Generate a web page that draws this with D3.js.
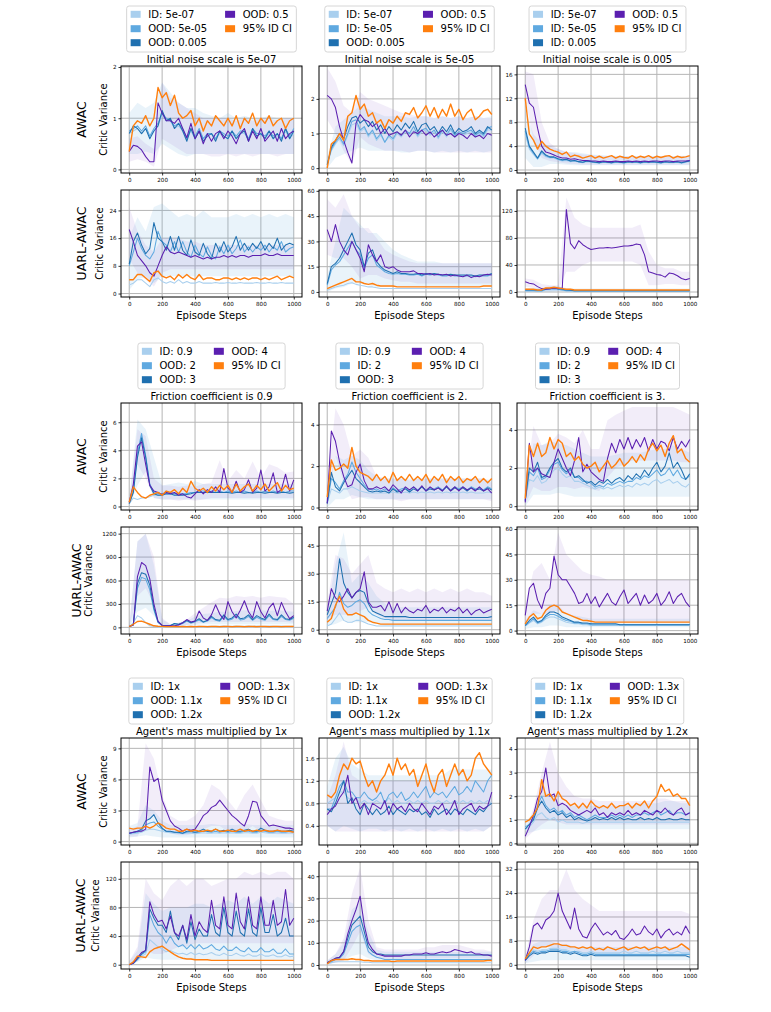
<!DOCTYPE html>
<html><head><meta charset="utf-8">
<script src="https://cdn.jsdelivr.net/npm/d3@7"></script>
<style>
body{margin:0;background:#fff}
svg{display:block}
text{font-family:"DejaVu Sans",sans-serif;fill:#000}
</style>
</head><body>
<svg id="chart" width="771" height="1012"></svg>
<script>
// ---------- categories / labels ----------
const steps = d3.range(0, 1001, 25);      // x positions of line samples
const bandSteps = d3.range(0, 1001, 50);  // x positions of band samples
const xTicks = [0, 200, 400, 600, 800, 1000];
const seriesColors = ["#a9cfee", "#5fa9e0", "#1f70b0", "#5b1fb0", "#ff7f0e"];
const rowNames = ["AWAC", "UARL-AWAC"];
const titles = [
  ["Initial noise scale is 5e-07", "Initial noise scale is 5e-05", "Initial noise scale is 0.005"],
  ["Friction coefficient is 0.9", "Friction coefficient is 2.", "Friction coefficient is 3."],
  ["Agent's mass multiplied by 1x", "Agent's mass multiplied by 1.1x", "Agent's mass multiplied by 1.2x"]
];
const legendNoise = [
  ["ID: 5e-07", "OOD: 5e-05", "OOD: 0.005", "OOD: 0.5", "95% ID CI"],
  ["ID: 5e-07", "ID: 5e-05", "OOD: 0.005", "OOD: 0.5", "95% ID CI"],
  ["ID: 5e-07", "ID: 5e-05", "ID: 0.005", "OOD: 0.5", "95% ID CI"]
];
const legendFriction = [
  ["ID: 0.9", "OOD: 2", "OOD: 3", "OOD: 4", "95% ID CI"],
  ["ID: 0.9", "ID: 2", "OOD: 3", "OOD: 4", "95% ID CI"],
  ["ID: 0.9", "ID: 2", "ID: 3", "OOD: 4", "95% ID CI"]
];
const legendMass = [
  ["ID: 1x", "OOD: 1.1x", "OOD: 1.2x", "OOD: 1.3x", "95% ID CI"],
  ["ID: 1x", "ID: 1.1x", "OOD: 1.2x", "OOD: 1.3x", "95% ID CI"],
  ["ID: 1x", "ID: 1.1x", "ID: 1.2x", "OOD: 1.3x", "95% ID CI"]
];
// y ticks per row (6 rows) per column
const yTicks = [
  [[0,1,2],[0,1,2],[0,4,8,12,16]],
  [[0,8,16,24],[0,15,30,45,60],[0,40,80,120]],
  [[0,2,4,6],[0,2,4],[0,2,4]],
  [[0,300,600,900,1200],[0,15,30,45],[0,15,30,45,60]],
  [[0,3,6,9],[0.4,0.8,1.2,1.6],[0,1,2,3,4]],
  [[0,40,80,120],[0,10,20,30,40],[0,8,16,24,32]]
];
const yDomains = [
  [[-0.07,2.02],[-0.14,2.95],[-0.5,17.4]],
  [[-1.0,29.9],[-3,60.5],[-7.4,151]],
  [[-0.25,7.37],[-0.12,5.05],[-0.2,5.41]],
  [[-85,1285],[-2.3,55],[-2,61.2]],
  [[-0.33,10.0],[0.06,1.96],[-0.07,4.47]],
  [[-6,143.5],[-1.8,46.4],[-1.4,34.4]]
];

// ---------- series values: [ID/OOD 1, 2, 3, OOD 4, 95% ID CI] ----------
// bands: [blue low, blue high, ood low, ood high]
const N1A = [
 [0.7,0.75,0.8,0.7,0.8,0.65,0.75,0.85,1.05,0.95,0.95,0.8,0.85,0.75,0.6,0.75,0.6,0.75,0.6,0.65,0.7,0.6,0.7,0.65,0.6,0.7,0.6,0.7,0.7,0.6,0.75,0.65,0.7,0.6,0.7,0.6,0.65,0.6,0.75,0.6,0.7],
 [0.75,0.8,0.85,0.75,0.85,0.65,0.8,0.9,1.1,1.0,0.95,0.85,0.9,0.8,0.6,0.8,0.65,0.8,0.6,0.7,0.7,0.6,0.75,0.7,0.65,0.75,0.65,0.75,0.75,0.6,0.8,0.7,0.7,0.65,0.75,0.65,0.7,0.6,0.8,0.65,0.8],
 [0.7,0.85,0.8,0.7,0.8,0.6,0.75,0.85,1.15,0.95,1.0,0.8,0.9,0.75,0.55,0.8,0.6,0.75,0.55,0.65,0.7,0.55,0.75,0.65,0.6,0.75,0.6,0.7,0.75,0.55,0.8,0.65,0.7,0.6,0.75,0.6,0.7,0.55,0.8,0.6,0.75],
 [0.35,0.47,0.45,0.38,0.25,0.15,0.15,1.3,1.1,0.95,0.95,0.9,1.0,0.8,0.62,0.9,0.6,0.75,0.5,0.7,0.55,0.7,0.75,0.6,0.75,0.65,0.5,0.7,0.8,0.55,0.75,0.6,0.8,0.55,0.65,0.75,0.55,0.8,0.6,0.7,0.75],
 [0.35,0.85,0.95,0.9,1.05,0.85,1.0,1.6,1.4,1.5,1.25,1.45,1.1,1.0,1.05,1.15,0.85,1.0,0.75,0.95,0.85,1.05,0.95,0.85,1.0,0.85,1.05,0.8,1.0,0.9,1.1,0.85,1.0,0.9,1.05,0.85,0.95,1.0,0.8,0.95,1.0]
];
const N1A_band = [
 [0.3,0.3,0.35,0.3,0.5,0.4,0.3,0.25,0.3,0.3,0.3,0.3,0.3,0.3,0.3,0.3,0.3,0.3,0.3,0.3,0.3],
 [1.1,1.3,1.2,1.3,1.7,1.5,1.3,1.2,1.2,1.1,1.05,1.0,1.1,1.0,1.05,1.0,1.0,1.05,1.0,1.0,1.0],
 [0.15,0.2,0.15,0.05,0.6,0.5,0.4,0.3,0.3,0.3,0.25,0.25,0.3,0.25,0.3,0.25,0.3,0.3,0.25,0.3,0.3],
 [0.6,0.65,0.5,0.4,1.7,1.4,1.3,1.2,1.1,1.0,1.0,1.0,1.0,0.95,1.0,0.95,1.0,1.0,0.95,1.0,1.0]
];
const N2A = [
 [0.1,0.5,0.7,0.85,0.65,0.95,1.25,1.3,1.05,1.15,0.9,1.05,0.8,0.95,0.75,0.9,0.8,1.0,0.9,1.05,0.95,1.1,0.9,1.05,1.1,0.95,1.05,0.85,1.05,0.9,1.1,0.9,1.0,0.95,1.0,1.05,0.9,1.0,0.9,1.1,1.1],
 [0.1,0.55,0.75,0.9,0.7,1.0,1.35,1.4,1.1,1.2,0.95,1.1,0.85,1.0,0.75,0.95,0.85,1.05,0.95,1.1,1.0,1.2,0.95,1.1,1.15,1.0,1.1,0.9,1.1,0.95,1.15,0.95,1.05,1.0,1.05,1.1,0.95,1.05,0.95,1.15,1.2],
 [0.1,0.6,0.8,1.0,0.85,1.2,1.45,1.5,1.3,1.4,1.2,1.35,1.1,1.25,1.0,1.2,1.05,1.25,1.1,1.3,1.15,1.35,1.05,1.25,1.3,1.1,1.2,1.0,1.2,1.05,1.25,1.0,1.15,1.05,1.1,1.2,1.0,1.1,1.0,1.2,1.1],
 [2.1,2.0,1.75,1.2,0.8,0.45,0.15,1.3,1.55,1.4,1.35,1.2,1.3,1.0,1.15,0.95,1.0,1.05,0.95,1.1,0.9,1.05,1.0,1.1,0.95,1.05,0.9,1.0,1.1,0.95,1.0,0.9,1.0,0.95,0.85,1.0,0.9,0.95,0.85,1.0,0.95],
 [0,0.7,0.8,1.0,0.8,1.5,1.6,2.1,1.7,1.85,1.5,1.6,1.3,1.4,1.15,1.4,1.3,1.5,1.35,1.6,1.55,1.75,1.45,1.6,1.8,1.5,1.75,1.45,1.7,1.5,1.85,1.5,1.7,1.4,1.6,1.7,1.4,1.5,1.65,1.7,1.55]
];
const N2A_band = [
 [0,0.3,0.4,0.5,0.6,0.5,0.5,0.5,0.5,0.45,0.45,0.5,0.5,0.45,0.5,0.45,0.5,0.45,0.5,0.45,0.5],
 [0.3,1.2,1.4,1.6,1.8,1.7,1.6,1.5,1.5,1.5,1.45,1.5,1.5,1.45,1.5,1.45,1.5,1.45,1.5,1.45,1.5],
 [1.4,1.0,0.5,0.1,0.9,0.7,0.6,0.5,0.5,0.5,0.45,0.5,0.5,0.45,0.45,0.45,0.45,0.45,0.45,0.45,0.45],
 [2.9,2.5,1.8,1.6,2.2,2.0,1.9,1.8,1.7,1.6,1.55,1.5,1.5,1.45,1.5,1.45,1.5,1.45,1.5,1.45,1.45]
];
const N3A = [
 [6,3.5,2.6,1.8,2.8,2.2,2.0,2.0,1.7,1.5,1.6,1.4,1.5,1.3,1.2,1.4,1.3,1.2,1.1,1.3,1.2,1.1,1.3,1.2,1.1,1.3,1.2,1.3,1.1,1.3,1.2,1.3,1.2,1.1,1.3,1.2,1.2,1.3,1.1,1.3,1.4],
 [6.5,3.8,2.8,1.9,3.0,2.4,2.1,2.1,1.8,1.6,1.7,1.5,1.6,1.4,1.3,1.5,1.4,1.3,1.2,1.4,1.3,1.2,1.4,1.3,1.2,1.4,1.3,1.4,1.2,1.4,1.3,1.4,1.3,1.2,1.4,1.3,1.3,1.4,1.2,1.4,1.5],
 [7,4,3,2,3.2,2.5,2.2,2.2,1.9,1.7,1.8,1.5,1.6,1.4,1.3,1.5,1.4,1.3,1.2,1.4,1.3,1.2,1.4,1.3,1.2,1.4,1.3,1.4,1.2,1.4,1.3,1.4,1.3,1.2,1.4,1.3,1.3,1.4,1.2,1.4,1.5],
 [14.3,11.2,10.5,7,4,3,2.8,2.5,2.2,2.0,2.0,1.8,1.9,1.7,1.6,1.6,1.5,1.5,1.4,1.5,1.4,1.4,1.5,1.4,1.4,1.5,1.4,1.5,1.4,1.5,1.4,1.5,1.5,1.4,1.5,1.5,1.4,1.5,1.5,1.5,1.6],
 [12,6,5,3.5,4.8,4,3.5,3.2,3,2.6,3,2.2,2.5,2.3,2,2.2,2.4,2,2.3,2,2.2,2.4,2,2.3,2.1,2,2.4,2,2.3,2.1,2.4,2,2.3,2.1,2.3,2.4,2,2.3,2.1,2.2,2.4]
];
const N3A_band = [
 [2,0.5,0.5,1,1,0.9,0.8,0.8,0.8,0.8,0.8,0.8,0.8,0.8,0.8,0.8,0.8,0.8,0.8,0.8,0.8],
 [10,6,4.5,4,3.5,3,3,2.8,2.6,2.5,2.4,2.4,2.3,2.4,2.3,2.4,2.3,2.4,2.3,2.4,2.4],
 [12,5,2,1.5,1.3,1.1,1.0,0.9,0.9,0.9,0.9,0.9,0.9,0.9,0.9,0.9,0.9,0.9,0.9,0.9,0.9],
 [16.5,16,8,4.5,3.5,3,2.8,2.6,2.5,2.4,2.4,2.3,2.3,2.3,2.3,2.3,2.3,2.3,2.3,2.3,2.3]
];
const N1U = [
 [2.5,3,4,4,3,2,4,4.5,3.5,3,3.5,3,4,3,3.5,3,3,3.5,3,3,3,3.2,3,3,3.2,3,3,3.2,3,3,3,3.2,3,3,3.2,3,3,3.2,3,3,3],
 [8,12,16,13,11,10,12,18,15,14,12,15,12,15,12,10.5,14,11.5,10.5,13.5,11,10,13.5,11.5,14,11.5,13,15.5,12,13.5,12,13.5,12.5,14,12,13.5,12.5,15,12,13,13.5],
 [8.5,15,17.5,14,11.5,13,20.5,16,15,12.5,16.5,12.5,16.5,12.5,11,15.5,12,11,14.5,11.5,10,14.5,12,15,12,13.5,16.5,12.5,14.5,12.5,14.5,13,15,12.5,14.5,13,16,12.5,14,14.5,14],
 [18.5,15,11,9.5,8,6,5,8,11,13.5,12,11.5,12,11.5,11,10.5,11,10.5,10,10.5,10,10.5,10.5,11,10.5,11,10.5,11,11,10.5,11,11,11,11.5,11,11,11.5,11,11,11,11],
 [4,4,5.5,5.5,4.5,3.5,6,6.5,5,4.5,5,4,5.5,4.5,5.5,4.5,4,5.5,4,4.5,4.5,4,4,4.5,4.5,4,4.5,4,4.5,4,4.5,4.5,4,4.5,4,4.5,5,4,4.5,5,4.5]
];
const N1U_band = [
 [1,4,5,3,5,5,5,5,5,5,5,5,5,5,5,5,5,5,5,5,5],
 [16,22,18,25,26,24,22,23,22,24,22,22,22,23,22,23,22,23,22,23,22],
 [10,6,4,2,6,7,7,7,7,7,7,7,7,7,7,7,7,7,7,7,7],
 [25,18,14,12,16,16,16,15,15,14,14,14,14,14,14,14,14,14,14,14,14]
];
const N2U = [
 [1,2,3,3.5,4,5,5.5,4.5,4,3.5,3,3,2.5,2,2,2,2,2,2,2,2,2,2,2,2,2,2,2,2,2,2,2,2,2,2,2,2,2,2,2,2],
 [4,13,16,18,22,26,30,25,22,14,20,22,16,14,12,11,10.5,11,10.5,10.5,10,10,10.5,9.5,10.5,10,10.5,10,9.5,9.5,10,9.5,9.5,9.5,9.5,9.5,9,9.5,9.5,9.5,10.5],
 [5,15,17,20,25,30,35,28,25,15,23,25,18,15,13,12,11,12,11,11,10.5,10.5,11,10,11,10.5,11,10.5,10,10,10.5,10,10,10,10,10,9.5,10,10,10,11],
 [37,30,40,30,25,22,30,25,20,12,28,22,18,22,15,14,15,13,12,12,12,12.5,11,11,10.5,11,10,10.5,10,10.5,9.5,10,9.5,9,10,8.5,9.5,9,10,10.5,10],
 [2,3,4,5,6,7,8,6,6,5,4.5,5,4,3.5,3.5,3.5,3.5,3,3,3,3,3,3,3,3,3,3,3,3,3,3,3,3,3,3,3,3,3,3.5,3.5,3.5]
];
const N2U_band = [
 [0,2,3,5,5,4,3,3,3,3,3,3,3,3,3,3,3,3,3,3,3],
 [10,30,50,45,40,35,35,30,25,22,20,18,18,18,17,17,17,17,17,17,17],
 [22,20,20,15,8,10,10,8,7,6,6,5,5,5,5,5,5,5,5,5,5],
 [55,50,58,45,38,38,32,25,22,20,18,17,17,17,17,17,17,17,17,17,17]
];
const N3U = [
 [1.5,1.5,1.5,1,1,3,3,3.5,3,2.5,1.5,1.5,1,1,1,1,1,1,1,1,1,1,1,1,1,1,1,1,1,1,1,1,1,1,1,1,1,1,1,1,1],
 [2,2,2,1.5,1.5,4,4,5,4,3,2,2,1.5,1.5,1.5,1.5,1.5,1.5,1.5,1.5,1.5,1.5,1.5,1.5,1.5,1.5,1.5,1.5,1.5,1.5,1.5,1.5,1.5,1.5,1.5,1.5,1.5,1.5,1.5,1.5,1.5],
 [3,3,3,2.5,2.5,5,5,6,5,4,3,2.5,2,2,2,2,2,2,2,2,2,2,2,2,2,2,2,2,2,2,2,2,2,2,2,2,2,2,2,2,2],
 [15,13,12,8,5,4,5,6,5,6,122,72,64,76,70,66,63,64,65,65,66,65,66,67,68,68,69,71,70,55,30,28,26,25,22,28,27,24,20,18,20],
 [4,4,4,3,3,6,6,7,6,5,4,4,3,3,3,3,3,3,3,3,3,3,3,3,3,3,3,3,3,3,3,3,3,3,3,3,3,3,3,3,3]
];
const N3U_band = [
 [0,0,0,0,1,0.5,0.5,0.5,0.5,0.5,0.5,0.5,0.5,0.5,0.5,0.5,0.5,0.5,0.5,0.5,0.5],
 [6,6,6,9,9,6,5,5,5,5,5,5,5,5,5,5,5,5,5,5,5],
 [8,6,2,2,2,30,30,40,45,45,45,45,45,45,40,10,10,12,12,10,10],
 [20,18,12,10,10,140,110,100,95,95,95,95,95,95,100,60,40,35,35,30,30]
];
const F1A = [
 [0.2,0.6,0.5,0.6,0.6,0.7,0.8,0.8,0.8,0.9,0.9,0.9,0.9,0.9,0.9,1.0,1.0,1.0,1.0,1.0,1.0,1.0,1.0,1.0,1.0,1.0,1.0,1.0,1.0,1.0,1.0,1.0,1.0,1.0,1.0,1.0,1.0,1.0,1.0,1.0,1.0],
 [0.2,1.1,3.8,5.2,3.6,1.6,1.0,0.9,0.9,1.0,1.0,0.9,0.9,0.9,0.9,1.0,1.0,1.1,1.1,1.0,1.1,1.0,1.1,1.0,1.1,1.0,1.1,1.0,1.1,1.0,1.0,1.1,1.0,1.1,1.0,1.1,1.0,1.1,1.0,1.1,1.1],
 [0.2,1.0,3.5,4.9,3.5,1.5,0.9,0.8,0.8,0.9,0.9,0.8,0.8,0.8,0.85,0.9,1.0,1.0,1.0,1.0,1.0,1.0,1.0,1.0,1.0,0.95,1.0,1.0,0.95,1.0,0.95,1.0,1.0,0.95,1.0,1.0,0.95,1.0,1.0,0.95,1.0],
 [0.3,1.6,4.3,4.6,3.0,1.5,1.1,1.0,0.85,1.0,0.9,1.0,0.8,0.9,0.7,0.6,0.9,1.2,0.9,1.2,1.0,1.4,1.0,2.7,1.3,1.0,1.8,1.0,1.2,1.9,1.0,1.3,2.6,1.1,1.4,2.4,1.0,1.2,2.3,1.1,1.9],
 [0.3,1.4,1.0,0.7,0.6,0.8,0.9,1.0,0.8,1.1,1.0,1.2,0.9,1.3,1.0,1.8,1.3,1.1,1.3,1.0,1.4,1.1,1.5,1.2,1.5,1.0,1.6,1.1,1.4,1.6,1.1,1.5,1.2,1.6,1.1,1.4,1.7,1.1,1.5,1.2,1.3]
];
const F1A_band = [
 [0,1.5,2.5,0.6,0.5,0.5,0.5,0.5,0.5,0.5,0.5,0.5,0.5,0.5,0.5,0.5,0.5,0.5,0.5,0.5,0.5],
 [0.5,6.2,5.5,3.5,1.5,1.6,1.7,1.6,1.8,1.6,1.6,1.6,1.6,1.6,1.6,1.6,1.6,1.6,1.6,1.6,1.6],
 [0.1,3.0,2.0,0.6,0.5,0.5,0.4,0.5,0.4,0.5,0.6,0.6,0.6,0.6,0.6,0.6,0.6,0.6,0.6,0.6,0.6],
 [0.5,5.5,5.0,2.0,1.5,1.5,1.4,1.5,1.4,1.6,1.7,3.3,1.8,2.6,2.0,3.2,2.0,3.0,2.8,2.4,2.5]
];
const F2A = [
 [0.2,0.9,0.8,0.7,0.9,0.9,1.0,0.9,0.8,0.75,0.7,0.7,0.7,0.7,0.7,0.7,0.75,0.7,0.7,0.75,0.7,0.75,0.7,0.75,0.7,0.75,0.7,0.75,0.7,0.75,0.7,0.75,0.7,0.75,0.7,0.75,0.7,0.7,0.7,0.75,0.7],
 [0.2,1.4,1.2,0.9,1.3,1.6,2.2,1.7,1.4,1.1,0.9,0.85,0.9,0.8,0.9,0.8,0.95,0.8,0.9,0.95,0.8,1.0,0.85,1.0,0.85,0.95,0.9,1.0,0.85,1.0,0.85,1.0,0.9,1.0,0.85,1.0,0.9,0.95,0.85,1.0,0.9],
 [0.2,1.7,1.0,0.8,1.2,1.5,1.8,1.4,1.2,1.0,0.8,0.75,0.8,0.75,0.8,0.7,0.9,0.75,0.8,0.9,0.75,0.9,0.8,1.0,0.8,0.9,0.85,0.95,0.8,1.0,0.8,0.95,0.85,0.95,0.8,0.95,0.85,0.9,0.8,0.95,0.85],
 [0.2,3.7,3.2,2.2,1.5,1.0,1.1,1.7,2.1,1.3,0.9,0.9,1.0,0.9,1.0,0.8,1.1,0.9,0.7,1.0,0.85,1.0,0.8,1.05,0.8,1.0,0.85,0.95,0.8,1.05,0.8,1.0,0.8,1.0,0.85,0.95,0.8,1.0,0.8,0.9,0.7],
 [0.5,2.3,1.8,1.9,2.1,1.9,2.9,2.0,1.7,1.6,1.5,1.3,1.6,1.3,1.5,1.2,1.7,1.3,1.5,1.3,1.6,1.3,1.5,1.3,1.6,1.2,1.5,1.3,1.6,1.2,1.5,1.3,1.5,1.2,1.4,1.3,1.5,1.2,1.4,1.2,1.4]
];
const F2A_band = [
 [0,0.4,0.4,0.6,0.5,0.4,0.4,0.4,0.4,0.4,0.4,0.4,0.4,0.4,0.4,0.4,0.4,0.4,0.4,0.4,0.4],
 [0.8,2.5,2.3,2.5,2.3,1.8,1.5,1.4,1.4,1.4,1.4,1.4,1.4,1.4,1.4,1.4,1.4,1.4,1.4,1.4,1.3],
 [0.1,2.5,1.2,0.4,0.5,0.5,0.4,0.4,0.4,0.3,0.4,0.4,0.4,0.4,0.4,0.4,0.4,0.4,0.4,0.4,0.3],
 [1,4.8,4.0,2.5,2.8,2.4,1.5,1.4,1.4,1.4,1.3,1.4,1.4,1.4,1.4,1.4,1.4,1.4,1.4,1.4,1.2]
];
const F3A = [
 [0.3,1.4,1.3,1.6,1.2,1.3,1.6,1.9,2.0,1.7,1.5,1.6,1.3,1.3,1.2,1.1,1.0,0.9,1.0,0.9,1.0,0.9,1.0,1.1,1.0,1.1,1.0,1.2,1.1,1.2,1.1,1.3,1.4,1.2,1.3,1.4,1.2,1.3,1.1,1.0,1.2],
 [0.3,1.8,1.6,2.0,1.4,1.5,1.9,2.2,2.3,1.9,1.7,1.9,1.5,1.5,1.3,1.3,1.2,1.0,1.1,1.0,1.2,1.1,1.2,1.3,1.2,1.3,1.3,1.5,1.4,1.6,1.5,1.7,1.9,1.6,1.7,2.0,1.6,1.9,1.5,1.4,1.6],
 [0.3,2.0,1.8,2.3,1.5,1.6,2.0,2.3,2.5,2.0,1.8,2.0,1.5,1.6,1.4,1.2,1.3,1.1,1.3,1.2,1.4,1.2,1.4,1.5,1.3,1.6,1.4,1.7,1.5,1.9,1.6,2.0,2.3,1.8,2.1,2.8,2.0,2.3,1.9,1.4,1.7],
 [0.2,3.3,1.8,2.0,1.7,1.6,1.5,2.3,3.0,2.5,2.0,1.6,2.4,3.6,1.8,2.2,1.8,1.6,1.4,1.3,2.5,3.3,2.8,3.5,3.0,3.6,3.0,3.5,3.1,3.6,2.9,3.5,3.0,3.4,3.3,2.9,3.6,3.0,3.4,3.1,3.5],
 [0.4,3.2,2.6,3.3,2.6,2.8,3.6,3.0,3.5,3.3,2.6,2.8,2.4,2.6,2.2,2.0,2.1,2.3,1.8,2.1,2.4,2.0,2.2,2.5,2.1,2.3,2.6,2.3,2.7,2.4,3.0,3.3,2.9,3.2,2.6,3.3,3.7,2.8,3.0,2.5,2.3]
];
const F3A_band = [
 [0,0.6,0.6,0.6,0.7,0.6,0.5,0.5,0.5,0.5,0.5,0.5,0.5,0.5,0.5,0.5,0.5,0.5,0.5,0.5,0.5],
 [1,3.3,3.2,3.4,3.3,3.2,3.0,2.8,2.6,2.6,2.6,2.7,2.8,2.8,2.8,2.9,3.0,3.0,3.2,3.0,2.8],
 [0.1,1.0,0.8,0.8,1.0,1.0,0.9,1.0,0.9,0.8,1.5,2.0,2.2,2.4,2.4,2.4,2.4,2.4,2.4,2.3,2.3],
 [1,4.2,3.2,3.3,3.8,3.6,3.3,4.0,3.0,3.0,4.5,4.8,5.0,5.2,5.2,5.2,5.2,5.2,5.2,5.0,4.8]
];
const F1U = [
 [5,60,150,120,60,20,10,5,5,5,5,8,10,8,10,15,12,14,12,14,15,14,15,16,14,15,17,14,15,16,14,16,15,14,16,15,14,16,15,14,15],
 [8,40,500,640,620,480,220,60,22,18,22,45,35,50,80,55,70,95,65,80,125,90,80,140,90,105,150,95,105,140,90,130,105,90,150,100,90,140,100,90,115],
 [10,30,560,700,680,540,250,70,25,20,25,50,40,60,90,60,80,110,70,90,140,100,90,160,100,120,170,110,120,160,100,150,120,100,170,110,100,160,110,100,130],
 [10,30,650,830,790,620,300,80,25,20,20,20,30,60,100,70,80,210,120,90,160,290,170,100,330,200,120,220,340,200,120,330,200,120,250,310,150,320,200,110,150],
 [10,40,75,80,60,40,20,15,12,10,10,12,10,12,10,12,10,12,12,10,12,12,10,12,12,10,12,12,10,12,12,10,12,12,10,12,12,10,12,12,12]
];
const F1U_band = [
 [0,200,250,150,10,5,10,20,30,40,40,40,40,40,40,40,40,40,40,40,40],
 [20,1100,1200,800,100,40,60,80,140,170,180,200,200,210,220,210,220,210,220,210,200],
 [0,400,500,300,10,5,10,30,50,60,70,70,70,70,70,70,70,70,70,70,60],
 [20,1100,1200,900,120,40,60,100,180,250,320,380,370,400,390,400,380,400,390,380,300]
];
const F2U = [
 [2,3,6,9,5,4,4,5,5,4,3,2.5,2,2,2,2,2,2,2,2,2,2,2,2,2,2,2,2,2,2,2,2,2,2,2,2,2,2,2,2,2],
 [6,9,12,20,14,12,13,15,16,14,10,8,7,6,5.5,5.5,5,5,5,5,5,5,5,5,5,5,5,5,5,5,5,5,5,5,5,5,5,5,5,5,5],
 [8,14,20,38,25,20,17,20,21,20,14,10,9,8,7,7,7,7,7,7,6.5,6.5,6.5,6.5,6.5,6.5,6.5,6.5,6.5,6.5,6.5,6.5,6.5,6.5,6.5,6.5,6.5,6.5,6.5,6.5,7],
 [10,22,17,15,18,22,17,20,22,31,15,12,12,13,10,15,9,14,9,12,10,9,11,10,13,9,11,10,12,9,11,10,12,9,11,8,10,11,9,10,11],
 [4,6,13,18,11,8,8,9,8,7,5,4,3.5,3,3,3,3,3,3,3,3,3,3,3,3,3,3,3,3,3,3,3,3,3,3,3,3,3,3,3,3]
];
const F2U_band = [
 [2,3,5,4,4,4,3,2,2,2,2,2,2,2,2,2,2,2,2,2,2],
 [10,35,52,25,30,25,18,14,12,12,12,12,12,12,12,12,12,12,12,12,12],
 [5,8,8,8,10,12,8,6,5,5,5,5,5,5,5,5,5,5,5,5,5],
 [15,40,38,30,35,40,25,22,20,22,20,22,20,22,20,22,20,22,20,20,18]
];
const F3U = [
 [2.5,4.5,6,4,5,7,8,8,7,6,5,4.5,4,4,3.5,3.5,3,3,3,3,3,3,3,3,3,3,3,3,3,3,3,3,3,3,3,3,3,3,3,3,3],
 [3,5,7,4.5,5.5,8,9.5,9.5,8.5,7,6,5.5,4.5,4.5,4,4,3.5,3.5,3.5,3.5,3.5,3.5,3.5,3.5,3.5,3.5,3.5,3.5,3.5,3.5,3.5,3.5,3.5,3.5,3.5,3.5,3.5,3.5,3.5,3.5,3.5],
 [3,6,8,5,6,9,11,11,10,8,7,6,5,5,4.5,4.5,4,4,4,4,4,4,4,3.5,3.5,3.5,3.5,3.5,3.5,3.5,3.5,3.5,3.5,3.5,3.5,3.5,3.5,3.5,3.5,3.5,3.5],
 [9,25,28,18,13,22,25,44,33,30,30,26,22,16,17,22,16,20,14,18,22,17,15,20,24,16,19,22,15,21,16,18,22,15,18,23,16,20,22,17,14],
 [4,8,10,7,8,12,14,15,14,11,10,9,8,7,6,6,5.5,5,5,5,5,5,5,5,5,5,5,5,5,5,5,5,5,5,5,5,5,5,5,5,5]
];
const F3U_band = [
 [1,2,2,3,3,2,2,2,2,2,2,2,2,2,2,2,2,2,2,2,2],
 [6,12,10,15,15,10,9,8,7,7,7,7,7,7,7,7,7,7,7,7,7],
 [5,10,10,10,12,10,8,6,5,5,5,5,5,5,5,5,5,5,5,5,5],
 [15,35,40,30,58,45,40,35,33,32,30,30,30,30,30,30,30,30,30,30,30]
];
const M1A = [
 [0.7,0.75,0.8,0.9,1.1,1.2,1.2,1.1,1.0,0.9,0.85,0.8,0.8,0.75,0.8,0.8,0.75,0.8,0.85,0.8,0.8,0.85,0.8,0.85,0.8,0.85,0.8,0.8,0.85,0.85,0.8,0.8,0.9,0.85,0.8,0.8,0.85,0.8,0.8,0.85,0.8],
 [0.8,0.85,0.9,1.1,1.6,1.8,1.9,1.5,1.2,1.0,0.95,0.9,0.85,0.8,0.9,0.95,0.85,0.9,1.0,0.95,0.9,1.0,0.9,1.0,0.9,1.0,0.9,0.9,1.0,1.0,0.9,0.9,1.1,1.0,0.9,0.9,1.0,0.9,0.9,1.0,0.9],
 [0.8,0.9,1.0,1.2,2.0,2.2,2.6,1.8,1.3,1.0,1.0,0.9,0.9,0.8,1.0,1.0,0.9,1.0,1.2,1.0,1.0,1.2,1.0,1.1,1.0,1.2,1.0,1.0,1.1,1.2,1.0,1.0,1.3,1.1,1.0,1.0,1.1,1.0,1.0,1.1,1.0],
 [0.8,0.9,1.0,1.0,1.2,7.2,5.8,6.1,4.0,3.0,2.0,1.5,1.3,1.0,1.2,1.1,1.2,1.8,2.5,2.8,3.3,3.5,4.0,3.5,3.0,2.5,2.2,1.8,1.5,2.5,3.9,3.8,2.5,2.0,1.5,1.6,1.5,1.4,1.3,1.3,1.2],
 [1.3,1.2,1.3,1.3,1.5,1.3,1.5,1.8,1.6,1.3,1.2,1.2,1.0,1.0,1.2,1.0,1.1,1.0,1.0,1.1,1.0,1.2,1.0,1.0,1.1,1.0,1.0,1.2,1.0,1.1,1.0,1.1,1.0,1.1,1.0,1.0,1.1,1.0,1.0,1.0,0.9]
];
const M1A_band = [
 [0.4,0.5,0.6,0.5,0.4,0.4,0.4,0.4,0.4,0.4,0.4,0.4,0.4,0.4,0.4,0.4,0.4,0.4,0.4,0.4,0.4],
 [1.5,1.8,3.5,3.0,2.0,1.6,1.6,1.6,1.6,1.6,1.7,1.6,1.6,1.6,1.7,1.6,1.6,1.6,1.6,1.6,1.6],
 [0.5,0.5,2.0,2.5,1.5,0.8,0.6,0.6,0.8,1.2,1.5,1.5,1.0,0.8,1.0,1.5,1.0,0.8,0.7,0.7,0.7],
 [1.2,1.5,9.5,8.0,4.5,2.5,2.0,2.0,2.5,3.5,5.5,5.0,4.0,3.0,4.5,5.5,4.0,2.5,2.2,2.0,2.0]
];
const M2A = [
 [0.8,0.85,0.9,1.0,1.0,0.9,0.85,0.9,0.8,0.85,0.8,0.8,0.85,0.8,0.8,0.9,0.8,0.85,0.8,0.8,0.85,0.8,0.85,0.8,0.85,0.8,0.8,0.85,0.8,0.85,0.8,0.85,0.8,0.85,0.8,0.85,0.8,0.85,0.8,0.85,0.8],
 [0.7,0.7,0.9,1.1,1.2,1.0,1.0,0.9,0.9,1.0,0.9,0.85,0.9,1.0,0.8,0.95,1.0,0.9,1.0,0.85,0.9,1.0,0.9,1.0,1.1,0.9,1.0,0.95,1.0,0.9,1.0,1.1,0.95,1.0,1.1,1.0,1.2,1.1,1.0,1.2,1.3],
 [0.7,0.65,0.8,1.0,1.2,0.8,0.9,0.7,0.6,0.8,0.7,0.6,0.7,0.6,0.65,0.75,0.6,0.7,0.65,0.6,0.7,0.65,0.7,0.6,0.65,0.55,0.7,0.6,0.65,0.7,0.6,0.7,0.65,0.6,0.7,0.65,0.6,0.7,0.65,0.75,0.8],
 [0.6,0.7,0.75,0.9,1.0,1.3,0.8,0.9,0.7,0.8,0.6,0.8,0.75,0.7,0.85,0.6,0.8,0.7,0.75,0.65,0.8,0.7,0.65,0.8,0.7,0.6,0.75,0.7,0.8,0.6,0.7,0.85,0.6,0.7,0.75,0.8,0.65,0.75,0.7,0.75,1.0],
 [0.95,0.9,1.0,1.3,1.5,1.4,1.6,1.5,1.55,1.3,1.1,1.2,1.0,1.2,1.3,1.5,1.3,1.6,1.4,1.5,1.3,1.4,1.1,1.3,1.5,1.2,1.0,1.3,1.4,1.1,1.3,1.5,1.3,1.4,1.2,1.3,1.6,1.7,1.5,1.4,1.3]
];
const M2A_band = [
 [0.4,0.3,0.4,0.35,0.3,0.35,0.35,0.3,0.35,0.3,0.35,0.3,0.35,0.3,0.35,0.3,0.35,0.3,0.35,0.3,0.4],
 [1.1,1.6,1.8,1.5,1.4,1.3,1.3,1.3,1.3,1.3,1.3,1.3,1.3,1.3,1.3,1.4,1.4,1.4,1.4,1.4,1.4],
 [0.4,0.3,0.3,0.3,0.3,0.3,0.3,0.3,0.3,0.3,0.3,0.3,0.3,0.3,0.3,0.3,0.3,0.3,0.3,0.3,0.4],
 [0.9,1.3,1.9,1.3,1.2,1.2,1.2,1.2,1.2,1.2,1.2,1.2,1.2,1.2,1.2,1.2,1.2,1.2,1.2,1.2,1.2]
];
const M3A = [
 [0.6,0.7,0.9,1.2,1.3,1.1,1.0,1.1,0.9,1.0,0.9,0.9,0.9,0.9,0.85,0.9,0.9,0.9,0.9,0.9,0.9,0.9,0.9,0.9,0.9,0.9,0.9,0.9,0.9,0.9,0.9,0.9,0.9,0.9,0.9,0.9,0.9,0.9,0.9,0.9,0.9],
 [0.7,0.8,1.1,1.6,2.0,1.6,1.4,1.5,1.3,1.4,1.2,1.3,1.1,1.2,1.1,1.0,1.1,1.2,1.1,1.1,1.1,1.2,1.1,1.2,1.1,1.2,1.1,1.2,1.2,1.3,1.2,1.3,1.4,1.2,1.3,1.4,1.2,1.3,1.3,1.2,1.3],
 [0.6,0.8,1.0,1.5,1.8,1.5,1.3,1.4,1.2,1.3,1.1,1.2,1.0,1.1,1.0,0.95,1.0,1.1,1.0,1.05,1.0,1.1,1.0,1.1,1.0,1.05,1.0,1.0,1.1,1.0,1.05,1.0,1.1,1.0,1.0,1.05,1.0,1.0,1.05,1.0,1.0],
 [0.3,0.7,1.2,1.9,2.2,3.2,2.0,2.1,1.6,1.7,1.6,1.4,1.3,1.2,1.3,1.4,1.3,1.5,1.2,1.3,1.1,1.3,1.2,1.3,1.2,1.4,1.2,1.3,1.2,1.4,1.3,1.2,1.4,1.3,1.5,1.3,1.2,1.4,1.5,1.2,1.3],
 [0.9,1.0,1.2,1.5,2.7,2.0,2.1,1.8,2.2,1.9,1.8,1.6,1.7,1.5,1.7,1.5,1.8,1.6,1.5,1.6,1.5,1.7,1.5,1.6,1.6,1.7,1.5,1.7,1.6,1.8,1.5,1.8,2.0,2.5,2.2,2.3,2.0,2.1,1.9,1.9,1.6]
];
const M3A_band = [
 [0.4,0.5,0.6,0.6,0.6,0.6,0.6,0.6,0.6,0.6,0.6,0.6,0.6,0.6,0.6,0.6,0.6,0.6,0.6,0.6,0.6],
 [0.9,1.3,2.2,2.1,1.8,1.6,1.6,1.6,1.6,1.6,1.6,1.6,1.6,1.6,1.7,1.7,1.7,1.8,1.8,1.7,1.7],
 [0.2,0.5,0.8,1.0,0.9,0.8,0.8,0.8,0.8,0.8,0.8,0.8,0.8,0.8,0.8,0.8,0.8,0.8,0.8,0.8,0.8],
 [0.5,1.5,3.0,4.3,3.0,2.4,2.0,1.9,1.9,1.8,1.8,1.8,1.8,1.8,1.8,1.8,1.9,1.9,1.8,1.8,1.8]
];
const M1U = [
 [0,2,6,12,15,35,30,25,22,18,20,17,15,16,14,17,14,16,14,15,17,14,13,16,13,13,16,13,12,15,12,12,15,12,12,14,11,11,14,11,12],
 [0,2,8,14,18,70,55,45,40,30,40,30,25,28,22,28,22,28,22,24,28,22,20,26,20,20,25,20,18,24,18,18,24,18,18,22,16,16,22,15,15],
 [0,2,8,15,20,78,65,55,55,45,75,45,35,55,30,60,35,50,40,40,70,45,40,80,45,40,75,45,40,78,45,40,80,45,45,70,40,45,65,40,40],
 [0,2,10,17,20,88,70,60,62,50,68,45,40,55,35,70,40,60,50,45,90,55,50,95,55,50,100,60,50,95,55,50,95,55,55,90,55,60,105,55,65],
 [0,4,12,11,10,18,22,24,26,22,18,14,11,9,8,8,7,7,7,7,6,6,6,6,6,6,6,6,6,6,6,6,6,6,6,6,6,6,6,6,6]
];
const M1U_band = [
 [0,4,10,8,7,7,7,7,7,7,7,7,7,7,7,7,7,7,7,7,7],
 [5,20,100,85,75,80,80,80,85,85,80,85,90,85,95,85,95,85,95,90,85],
 [0,5,20,15,15,20,25,25,30,30,30,30,30,30,30,30,30,30,30,30,30],
 [5,25,120,100,90,110,120,110,120,120,110,115,120,120,130,125,130,125,130,130,120]
];
const M2U = [
 [0.5,1,1.5,1.5,1.5,1.5,1.5,1.5,1.5,1.2,1.2,1,1,1,1,1,1,1,1,1,1,1,1,1,1,1,1,1,1,1,1,1,1,1,1,1,1,1,1,1,1],
 [1,1.5,2.5,3,5,10,15,17,18,12,6,4.5,3.5,3,2.5,2.5,2.5,2.5,2.5,2.5,2.5,2.5,2.5,2.5,2.5,2.5,2.5,2.5,2.5,2.5,2.5,2.5,2.5,2.5,2.5,2.5,2.5,2.5,2.5,2.5,2.5],
 [1,2,3,3.5,6,12,18,20,22,15,8,6,5,5,4.5,4.5,4.5,4.5,4.5,4.5,4.5,4.5,4.5,4.5,4.5,4.5,4.5,4.5,4.5,4.5,4.5,4.5,4.5,4.5,4.5,4.5,4.5,4.5,4.5,4.5,4.5],
 [1,2,3,3.5,6,14,20,25,31,18,10,7,5,4.5,4,4,4,4,4,4.5,4.5,5,5,5,5.5,5,5,5.5,6,5.5,6,7,6.5,6,5.5,6,5,5,4.5,4.5,4],
 [0.5,2,2.5,2.5,2.5,2.5,2.8,2.5,2.5,2,2,1.8,1.8,1.8,1.8,1.8,1.5,1.8,1.8,1.8,1.8,1.8,1.8,1.8,1.8,1.8,1.8,1.8,1.8,1.8,1.8,1.8,1.8,1.8,1.8,1.8,1.8,1.8,1.8,2,2]
];
const M2U_band = [
 [0.5,1,2,4,5,3,2,2,2,2,2,2,2,2,2,2,2,2,2,2,2],
 [2,5,10,25,28,15,7,6,6,6,6,6,6,6,6,6,6,6,6,6,6],
 [0.5,1,2,8,15,5,3,2.5,2.5,2.5,2.5,2.5,3,3,3,3,3,3,3,3,2.5],
 [2,5,12,32,44,20,8,7,7,7,7,7,8,8,9,9,9,8,7,7,6]
];
const M3U = [
 [1.5,3.5,5,4.5,5,5,5.5,5.5,5.5,5,5,4.5,4.5,4.5,4,4,4.5,4,4,4,4,4,4,4,4.5,4,4,4.5,4,4,4,4.5,4,4,4.5,4,4,4.5,4,4,4],
 [1.5,3.5,4.5,4,4.5,4.5,5,5,5,4.5,4.5,4,4.5,4,3.5,3.5,4,3.5,3.5,3.5,3.5,3.5,3.5,3.5,3.5,3.5,3.5,3.5,3.5,3.5,3.5,3.5,3.5,3.5,3.5,3.5,3.5,3.5,3.5,3.5,3.5],
 [1.5,3,4,3.5,4,4,4.5,4.5,4.5,4,4,3.5,4,3.5,3,3,3.5,3,3,3,3,3,3,3,3,3,3,3,3,3,3,3,3,3,3,3,3,3,3,3,2.5],
 [1.5,6,13,14,12,15,16,18,24,18,15,12,19,12,9.5,9,12,14,12,10,11,10,11.5,9,8.5,10,12,10,10.5,13,11,10,12,9,11,12,10,11,10,13,10.5],
 [2,4,6,5.5,6,6,6.5,7,7,6.5,6.5,6,6,5.5,6,5.5,6,5,5.5,5,6,5.5,5,5.5,6,5,5.5,6,5.5,6,5,5.5,6,5.5,6,5,5.5,6,7,6,5]
];
const M3U_band = [
 [0.5,1,1.5,1.5,1.5,1.5,1.5,1.5,1.5,1.5,1.5,1.5,1.5,1.5,1.5,1.5,1.5,1.5,1.5,1.5,1.5],
 [3,7,8,8,7,7,6,6,6,6,6,6,6,6,6,6,6,6,6,6,6],
 [0.5,3,6,6,5,5,5,4,4,4,4,4,4,4,4,4,4,4,4,4,4],
 [3,15,22,25,25,32,25,22,20,18,18,18,18,18,18,18,18,18,18,18,17]
];

// ---------- assembly ----------
const groups = [
  { legends: legendNoise,    rows: [[N1A,N2A,N3A],[N1U,N2U,N3U]], bands: [[N1A_band,N2A_band,N3A_band],[N1U_band,N2U_band,N3U_band]] },
  { legends: legendFriction, rows: [[F1A,F2A,F3A],[F1U,F2U,F3U]], bands: [[F1A_band,F2A_band,F3A_band],[F1U_band,F2U_band,F3U_band]] },
  { legends: legendMass,     rows: [[M1A,M2A,M3A],[M1U,M2U,M3U]], bands: [[M1A_band,M2A_band,M3A_band],[M1U_band,M2U_band,M3U_band]] }
];

// ---------- layout ----------
const groupOffsets = [0, 337, 672];
const colLefts = [121, 319, 517];
const plotW = 181, plotH = 107;
const rowTops = [66, 190];
const rowLabelX = [[81,103],[81,99],[81,103],[76,88],[81,103],[80,95]];

const svg = d3.select("#chart");
const defs = svg.append("defs");

function yFmt(v){ return Number.isInteger(v) ? String(v) : d3.format(".1f")(v); }
const xFmt = d3.format("d");

groups.forEach((grp, g) => {
  const gOff = groupOffsets[g];
  for (let kind = 0; kind < 2; kind++) {
    const r = g * 2 + kind;
    for (let c = 0; c < 3; c++) {
      const left = colLefts[c], top = gOff + rowTops[kind];
      const x = d3.scaleLinear().domain([-50, 1050]).range([left, left + plotW]);
      const y = d3.scaleLinear().domain(yDomains[r][c]).range([top + plotH, top]);
      const clipId = `clip-${r}-${c}`;
      defs.append("clipPath").attr("id", clipId).append("rect")
        .attr("x", left).attr("y", top).attr("width", plotW).attr("height", plotH);
      const pg = svg.append("g");
      // grid
      const grid = pg.append("g").attr("clip-path", `url(#${clipId})`);
      grid.selectAll("line.gx").data(xTicks).join("line")
        .attr("x1", d => x(d)).attr("x2", d => x(d)).attr("y1", top).attr("y2", top + plotH)
        .attr("stroke", "#b5b5b5").attr("stroke-width", 1);
      grid.selectAll("line.gy").data(yTicks[r][c]).join("line")
        .attr("y1", d => y(d)).attr("y2", d => y(d)).attr("x1", left).attr("x2", left + plotW)
        .attr("stroke", "#b5b5b5").attr("stroke-width", 1);
      // bands
      const series = grp.rows[kind][c];
      const band = grp.bands[kind][c];
      const area = (lo, hi) => d3.area()
        .x((d, i) => x(bandSteps[i])).y0((d, i) => y(lo[i])).y1((d, i) => y(hi[i]))(lo);
      const data = pg.append("g").attr("clip-path", `url(#${clipId})`);
      data.append("path").attr("d", area(band[0], band[1]))
        .attr("fill", "#6aaee0").attr("fill-opacity", 0.15);
      data.append("path").attr("d", area(band[2], band[3]))
        .attr("fill", "#7c4fc8").attr("fill-opacity", 0.10);
      // lines
      const line = d3.line().x((d, i) => x(steps[i])).y(d => y(d));
      series.forEach((vals, k) => {
        data.append("path").attr("d", line(vals)).attr("fill", "none")
          .attr("stroke", seriesColors[k]).attr("stroke-width", k === 4 ? 1.4 : 1.05)
          .attr("stroke-linejoin", "round");
      });
      // axes
      const xa = pg.append("g").attr("transform", `translate(0,${top + plotH})`)
        .call(d3.axisBottom(x).tickValues(xTicks).tickFormat(xFmt).tickSize(2.5).tickPadding(2.2));
      const ya = pg.append("g").attr("transform", `translate(${left},0)`)
        .call(d3.axisLeft(y).tickValues(yTicks[r][c]).tickSize(2.5).tickPadding(2).tickFormat(yFmt));
      [xa, ya].forEach(a => {
        a.select(".domain").remove();
        a.selectAll("text").attr("font-size", 5.6).attr("font-family", "DejaVu Sans").attr("fill", "#000");
        a.selectAll("line").attr("stroke", "#000").attr("stroke-width", 0.8);
      });
      // frame
      pg.append("rect").attr("x", left).attr("y", top).attr("width", plotW).attr("height", plotH)
        .attr("fill", "none").attr("stroke", "#000").attr("stroke-width", 1);
      // title & legend for top row
      if (kind === 0) {
        svg.append("text").attr("x", left + plotW / 2).attr("y", gOff + 63)
          .attr("text-anchor", "middle").attr("font-size", 10).text(titles[g][c]);
        drawLegend(grp.legends[c], left + plotW / 2, gOff + 6);
      } else {
        svg.append("text").attr("x", left + plotW / 2).attr("y", top + plotH + 22)
          .attr("text-anchor", "middle").attr("font-size", 10).text("Episode Steps");
      }
    }
    // row labels
    const cy = gOff + rowTops[kind] + plotH / 2;
    svg.append("text").attr("transform", `translate(${rowLabelX[r][0]},${cy}) rotate(-90)`)
      .attr("text-anchor", "middle").attr("dominant-baseline", "central")
      .attr("font-size", 12.5).text(rowNames[kind]);
    svg.append("text").attr("transform", `translate(${rowLabelX[r][1]},${cy}) rotate(-90)`)
      .attr("text-anchor", "middle").attr("dominant-baseline", "central")
      .attr("font-size", 10).text("Critic Variance");
  }
});

function drawLegend(labels, cx, top) {
  const lg = svg.append("g");
  const box = lg.append("rect");
  const rowsY = [8.3, 22.7, 36.7];
  const cols = [[0, 1, 2], [3, 4]];
  let xCursor = 4;
  cols.forEach((idxs, ci) => {
    let maxW = 0;
    idxs.forEach((k, j) => {
      const t = lg.append("text").attr("x", xCursor + 17.6).attr("y", top + rowsY[j])
        .attr("dominant-baseline", "central").attr("font-size", 10).text(labels[k]);
      lg.append("rect").attr("x", xCursor).attr("y", top + rowsY[j] - 3.5)
        .attr("width", 10).attr("height", 7).attr("fill", seriesColors[k]);
      maxW = Math.max(maxW, t.node().getComputedTextLength());
    });
    xCursor += 17.6 + maxW + (ci === 0 ? 18 : 4.5);
  });
  const w = xCursor;
  box.attr("x", 0).attr("y", top).attr("width", w).attr("height", 46)
    .attr("rx", 2.5).attr("fill", "#fff").attr("stroke", "#d6d6d6").attr("stroke-width", 1);
  lg.attr("transform", `translate(${cx - w / 2},0)`);
}
</script>
</body></html>
